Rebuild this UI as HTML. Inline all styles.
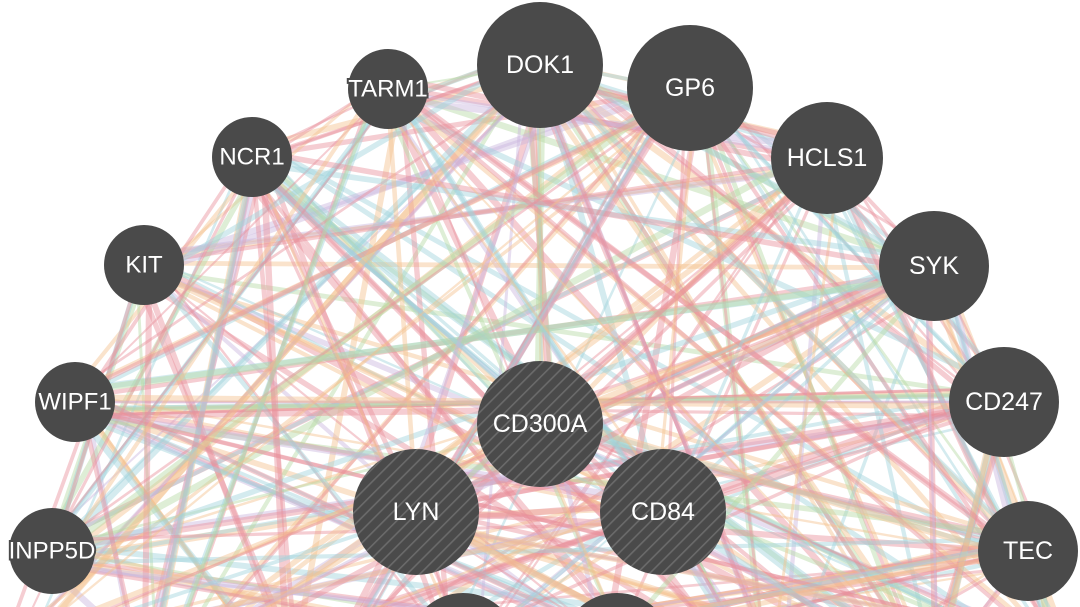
<!DOCTYPE html>
<html><head><meta charset="utf-8">
<style>
html,body{margin:0;padding:0;background:#fff;width:1080px;height:607px;overflow:hidden}
svg{display:block;overflow:hidden}
text{font-family:"Liberation Sans",sans-serif;fill:#fff;text-anchor:middle;dominant-baseline:central}
</style></head>
<body>
<svg id="s" width="1080" height="607" viewBox="0 0 1080 607">
<defs>
<pattern id="h" patternUnits="userSpaceOnUse" width="9" height="9" patternTransform="rotate(-45)">
<rect width="9" height="9" fill="#4a4a4a"/>
<rect width="9" height="1.6" fill="#6a6a6a"/>
</pattern>
<clipPath id="cp"><rect x="0" y="0" width="1080" height="607"/></clipPath>
</defs>
<g clip-path="url(#cp)">
<g id="edges"></g>
<g id="nodes">
<circle cx="540" cy="65" r="63" fill="#4a4a4a"/><text x="540" y="65" font-size="25">DOK1</text>
<circle cx="690" cy="88" r="63" fill="#4a4a4a"/><text x="690" y="88" font-size="25">GP6</text>
<circle cx="388" cy="89" r="40" fill="#4a4a4a"/><text x="388" y="89" font-size="24" stroke="#4a4a4a" stroke-width="4" paint-order="stroke">TARM1</text>
<circle cx="252" cy="157" r="40" fill="#4a4a4a"/><text x="252" y="157" font-size="24">NCR1</text>
<circle cx="827" cy="158" r="56" fill="#4a4a4a"/><text x="827" y="158" font-size="25">HCLS1</text>
<circle cx="144" cy="265" r="40" fill="#4a4a4a"/><text x="144" y="265" font-size="24">KIT</text>
<circle cx="934" cy="266" r="55" fill="#4a4a4a"/><text x="934" y="266" font-size="25">SYK</text>
<circle cx="75" cy="402" r="40" fill="#4a4a4a"/><text x="75" y="402" font-size="24">WIPF1</text>
<circle cx="1004" cy="402" r="55" fill="#4a4a4a"/><text x="1004" y="402" font-size="25">CD247</text>
<circle cx="540" cy="424" r="63" fill="url(#h)"/><text x="540" y="424" font-size="25">CD300A</text>
<circle cx="416" cy="512" r="63" fill="url(#h)"/><text x="416" y="512" font-size="25">LYN</text>
<circle cx="663" cy="512" r="63" fill="url(#h)"/><text x="663" y="512" font-size="25">CD84</text>
<circle cx="52" cy="551" r="43" fill="#4a4a4a"/><text x="52" y="551" font-size="24" stroke="#4a4a4a" stroke-width="4" paint-order="stroke">INPP5D</text>
<circle cx="1028" cy="551" r="50" fill="#4a4a4a"/><text x="1028" y="551" font-size="25">TEC</text>
<circle cx="463" cy="648" r="55" fill="#4a4a4a"/>
<circle cx="617" cy="648" r="55" fill="#4a4a4a"/>
</g>
</g>
</svg>
<script>
var N=[[540,65],[690,88],[388,89],[252,157],[827,158],[144,265],[934,266],[75,402],[1004,402],[540,424],[416,512],[663,512],[52,551],[1028,551],[463,648],[617,648],[300,700],[780,700],[150,680],[930,680],[20,650],[1060,650]];
var C=["#e8919c","#e8919c","#e8919c","#e8919c","#9fd3dc","#9fd3dc","#f3c08e","#f3c08e","#b5d9a4","#c9b6dd"];
var seed=7;function r(){seed=(seed*16807)%2147483647;return seed/2147483647;}
var g=document.getElementById('edges'),s='';
for(var k=0;k<480;k++){var a=Math.floor(r()*N.length),b=Math.floor(r()*N.length);if(a==b)continue;
var c=C[Math.floor(r()*C.length)],w=2+r()*5;
var ox=(r()-.5)*30,oy=(r()-.5)*30;
s+='<line x1="'+(N[a][0]+ox)+'" y1="'+(N[a][1]+oy)+'" x2="'+(N[b][0]-ox)+'" y2="'+(N[b][1]-oy)+'" stroke="'+c+'" stroke-width="'+w.toFixed(1)+'" stroke-opacity="0.45"/>';}
g.innerHTML=s;
</script>
</body></html>
